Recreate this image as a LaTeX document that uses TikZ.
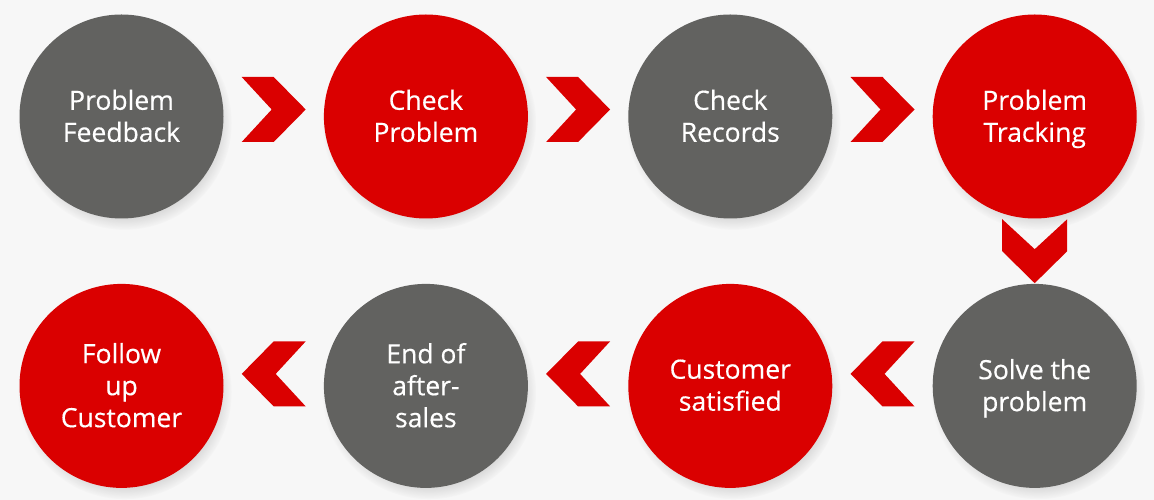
\documentclass[tikz,border=0pt]{standalone}
\usepackage{fontspec}
\setmainfont{Open Sans}
\newfontfamily\labelfont{Open Sans}[FakeBold=0.4]
\usepackage{tikz}
\usetikzlibrary{positioning, calc, shadows}
\definecolor{stepred}{HTML}{DA0000}
\definecolor{stepgray}{HTML}{626260}
\definecolor{paper}{HTML}{F7F7F7}
\tikzstyle{stepcircle}=[circle, minimum size=204pt, inner sep=0pt, text=white, align=center,
  font=\labelfont\fontsize{26.5}{32}\selectfont, text depth=1.6pt,
  circular drop shadow={shadow xshift=3pt, shadow yshift=-6pt, shadow scale=1.05, opacity=0.3}]
\tikzstyle{redcircle}=[stepcircle, fill=stepred]
\tikzstyle{graycircle}=[stepcircle, fill=stepgray]
\tikzset{chevron/.pic={
  \fill[stepred] (-32,-32.5) -- (0,-32.5) -- (32,0) -- (0,32.5) -- (-32,32.5) -- (-2,0) -- cycle;}}

\begin{document}
\begin{tikzpicture}[x=1pt, y=1pt]
        \fill[paper] (0,0) rectangle (1154,500);
        \useasboundingbox (0,0) rectangle (1154,500);

        \node[graycircle] (p1) at (121.5,383.5) {Problem\\Feedback};
        \node[redcircle, right=100pt of p1] (p2) {Check\\Problem};
        \node[graycircle, right=100pt of p2] (p3) {Check\\Records};
        \node[redcircle, right=100pt of p3] (p4) {Problem\\Tracking};
        \node[graycircle, below=65pt of p4] (p5) {Solve the\\problem};
        \node[redcircle, left=100pt of p5] (p6) {Customer\\satisfied};
        \node[graycircle, left=100pt of p6] (p7) {End of\\after-\\sales};
        \node[redcircle, left=100pt of p7] (p8) {Follow\\up\\Customer};

        % arrows between the steps
        \pic[yshift=7pt] at ($(p1)!0.5!(p2)$) {chevron};
        \pic[yshift=7pt] at ($(p2)!0.5!(p3)$) {chevron};
        \pic[yshift=7pt] at ($(p3)!0.5!(p4)$) {chevron};
        \pic[rotate=-90] at ($(p4.south)!0.5!(p5.north)$) {chevron};
        \pic[yshift=12pt, rotate=180] at ($(p5)!0.5!(p6)$) {chevron};
        \pic[yshift=12pt, rotate=180] at ($(p6)!0.5!(p7)$) {chevron};
        \pic[yshift=12pt, rotate=180] at ($(p7)!0.5!(p8)$) {chevron};
    \end{tikzpicture}
\end{document}
